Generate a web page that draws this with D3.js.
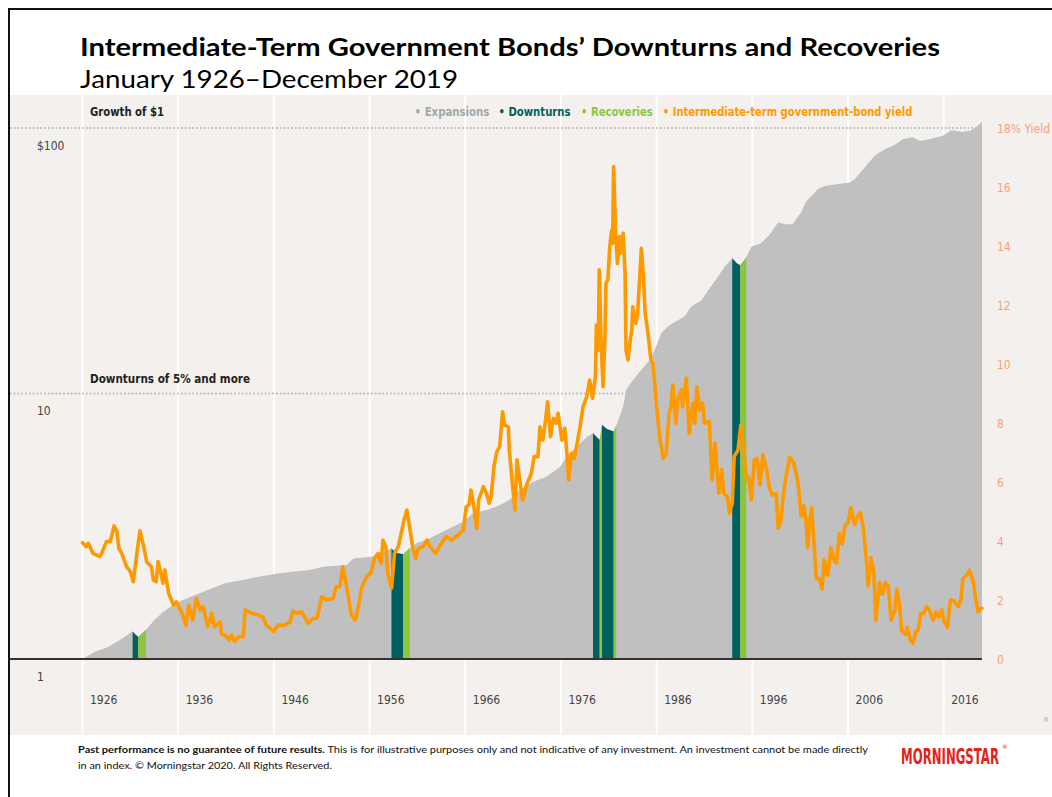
<!DOCTYPE html>
<html><head><meta charset="utf-8">
<script src="https://cdn.jsdelivr.net/npm/d3@7"></script>
<style>
html,body{margin:0;padding:0;background:#fff;}
svg{display:block;}
</style></head><body>
<svg id="chart" width="1052" height="797"></svg>
<script>
// ---------- DATA ----------
// Intermediate-term government bond yield (%), [year, yield]
const yieldSeries = [
[1926.0,3.94],[1926.4,3.81],[1926.6,3.92],[1927.1,3.58],[1927.8,3.47],[1928.0,3.58],[1928.5,3.98],[1928.9,3.98],
[1929.3,4.51],[1929.6,4.32],[1929.8,3.75],[1930.1,3.58],[1930.6,3.13],[1931.0,2.96],[1931.3,2.62],[1931.5,3.13],
[1932.0,4.35],[1932.4,3.81],[1932.7,3.30],[1933.2,3.13],[1933.4,2.68],[1933.7,2.62],[1933.9,3.30],[1934.2,2.90],
[1934.4,2.57],[1934.6,3.02],[1935.0,2.23],[1935.5,1.83],[1935.8,1.94],[1936.4,1.55],[1936.8,1.15],[1937.1,1.83],
[1937.5,1.32],[1937.9,2.06],[1938.3,1.66],[1938.6,1.77],[1939.1,1.09],[1939.5,1.55],[1939.8,1.09],[1940.4,1.26],
[1940.5,0.87],[1941.1,0.76],[1941.3,0.64],[1941.6,0.81],[1941.9,0.59],[1942.3,0.76],[1942.8,0.76],[1943.0,1.66],
[1943.7,1.55],[1944.4,1.49],[1944.9,1.41],[1945.2,1.15],[1946.0,0.93],[1946.4,1.15],[1947.1,1.15],[1947.7,1.26],
[1948.0,1.63],[1948.4,1.55],[1948.9,1.60],[1949.6,1.21],[1950.1,1.38],[1950.5,1.38],[1951.0,2.11],[1951.5,2.00],
[1952.2,2.06],[1952.5,2.45],[1952.9,2.45],[1953.2,3.13],[1953.6,2.45],[1954.1,1.49],[1954.5,1.32],[1954.8,1.72],
[1955.2,2.45],[1955.7,2.79],[1956.2,2.96],[1956.5,3.41],[1956.9,3.58],[1957.2,3.24],[1957.4,4.03],[1957.7,3.81],
[1957.9,2.90],[1958.3,2.40],[1958.6,3.58],[1959.0,3.81],[1959.3,4.26],[1959.6,4.71],[1959.9,5.05],[1960.2,4.43],
[1960.5,3.81],[1960.8,3.41],[1961.1,3.75],[1961.6,3.81],[1962.0,4.03],[1962.3,3.81],[1962.9,3.58],[1963.3,3.81],
[1964.0,4.15],[1964.6,4.03],[1965.2,4.20],[1965.8,4.37],[1966.1,5.16],[1966.4,5.22],[1966.6,5.73],[1966.9,5.16],
[1967.2,4.43],[1967.4,5.39],[1967.9,5.84],[1968.2,5.62],[1968.5,5.28],[1968.7,5.50],[1969.0,6.52],[1969.3,7.03],
[1969.6,7.20],[1969.9,8.38],[1970.1,7.93],[1970.5,7.87],[1970.6,7.08],[1970.9,6.01],[1971.2,5.05],[1971.4,6.75],
[1971.7,6.07],[1972.0,5.39],[1972.4,5.90],[1972.9,6.29],[1973.2,6.86],[1973.6,6.86],[1973.8,7.87],[1974.1,7.42],
[1974.4,8.10],[1974.6,8.72],[1974.9,7.54],[1975.2,8.16],[1975.5,7.99],[1975.7,8.33],[1976.1,7.42],[1976.4,7.82],
[1976.6,7.08],[1976.8,6.07],[1977.1,6.97],[1977.4,6.80],[1978.0,7.87],[1978.3,8.55],[1978.7,8.89],[1979.0,9.46],
[1979.3,8.84],[1979.6,9.57],[1979.7,11.32],[1979.9,10.47],[1980.0,13.19],[1980.2,10.70],[1980.4,9.23],[1980.6,10.93],
[1980.7,12.74],[1980.9,12.85],[1981.1,13.98],[1981.3,14.54],[1981.4,14.09],[1981.5,16.69],[1981.7,14.54],[1981.9,13.41],
[1982.1,14.32],[1982.2,13.75],[1982.5,14.43],[1982.7,13.07],[1982.8,10.47],[1983.0,10.14],[1983.2,10.70],[1983.4,11.15],
[1983.5,11.94],[1983.8,11.38],[1984.0,11.66],[1984.2,12.74],[1984.4,13.92],[1984.6,13.07],[1984.8,11.72],[1985.1,11.04],
[1985.4,10.14],[1985.6,10.02],[1985.8,9.35],[1986.0,8.55],[1986.3,7.54],[1986.7,6.80],[1987.0,6.97],[1987.3,8.33],
[1987.5,8.55],[1987.7,9.29],[1988.0,7.99],[1988.2,8.78],[1988.6,9.12],[1988.7,8.55],[1989.1,9.52],[1989.4,7.65],
[1989.8,8.67],[1990.0,7.99],[1990.2,9.23],[1990.5,8.44],[1990.8,8.67],[1991.0,7.99],[1991.5,8.05],[1991.8,6.07],
[1992.1,7.31],[1992.5,5.62],[1992.8,6.41],[1993.0,5.62],[1993.4,5.50],[1993.6,4.94],[1993.9,5.28],[1994.1,6.86],
[1994.5,7.08],[1994.8,7.93],[1995.1,7.08],[1995.4,6.07],[1995.6,6.18],[1995.9,5.39],[1996.2,6.75],[1996.5,6.80],
[1996.8,5.90],[1997.1,6.92],[1997.5,6.41],[1997.8,5.78],[1998.1,5.55],[1998.5,5.60],[1998.7,4.43],[1999.0,4.72],
[1999.2,5.43],[1999.5,6.14],[1999.9,6.84],[2000.3,6.66],[2000.6,6.25],[2000.8,5.90],[2001.1,4.84],[2001.4,5.19],
[2001.6,4.72],[2001.8,3.78],[2002.0,4.72],[2002.2,5.13],[2002.4,4.13],[2002.7,2.72],[2003.0,2.72],[2003.3,2.37],
[2003.5,3.37],[2003.9,2.84],[2004.2,3.78],[2004.6,3.31],[2004.8,3.25],[2005.1,4.25],[2005.4,3.90],[2005.7,4.55],
[2006.0,4.60],[2006.3,5.13],[2006.7,4.55],[2007.0,4.84],[2007.3,4.96],[2007.6,4.43],[2007.9,3.43],[2008.1,2.48],
[2008.4,3.43],[2008.7,2.95],[2008.9,1.31],[2009.3,2.60],[2009.6,2.19],[2009.9,2.60],[2010.2,2.48],[2010.5,1.31],
[2010.9,1.66],[2011.1,2.37],[2011.4,1.78],[2011.6,0.95],[2012.0,0.83],[2012.2,1.07],[2012.5,0.66],[2012.8,0.54],
[2013.1,0.95],[2013.3,0.95],[2013.6,1.54],[2013.9,1.54],[2014.2,1.78],[2014.5,1.66],[2014.9,1.31],[2015.2,1.60],
[2015.5,1.42],[2015.8,1.66],[2016.0,1.31],[2016.4,1.07],[2016.7,2.01],[2017.1,1.95],[2017.5,1.78],[2017.8,2.01],
[2018.0,2.72],[2018.4,2.84],[2018.7,3.01],[2019.1,2.60],[2019.3,2.13],[2019.6,1.60],[2019.9,1.72],[2020.0,1.72]
];

// Growth of $1 (log scale), [year, value]
const growthSeries = [
[1926.0,1.00],[1927.3,1.065],[1928.7,1.11],[1929.9,1.18],[1931.24,1.27],[1931.5,1.24],[1931.83,1.21],[1932.63,1.29],
[1933.5,1.40],[1934.3,1.49],[1935.7,1.62],[1937.4,1.72],[1939.1,1.82],[1940.9,1.93],[1942.6,1.98],[1944.4,2.04],
[1946.1,2.09],[1947.8,2.13],[1949.6,2.16],[1951.3,2.23],[1953.6,2.26],[1954.3,2.39],[1956.4,2.43],[1958.29,2.61],
[1958.7,2.52],[1959.5,2.48],[1960.2,2.62],[1960.9,2.73],[1962.3,2.85],[1964.0,3.06],[1965.8,3.29],[1966.8,3.54],
[1968.2,3.64],[1969.3,3.75],[1970.6,3.97],[1971.7,4.33],[1973.1,4.65],[1974.5,4.86],[1975.9,5.30],[1976.9,5.96],
[1978.0,6.49],[1978.8,6.90],[1979.35,7.08],[1980.05,6.68],[1980.29,7.62],[1980.8,7.35],[1981.51,7.20],[1981.77,7.55],
[1982.5,8.92],[1982.8,10.3],[1983.5,11.2],[1984.4,12.3],[1985.3,13.4],[1985.8,14.6],[1986.5,16.9],[1987.2,17.9],
[1987.9,18.6],[1988.9,19.5],[1989.6,21.2],[1990.7,22.5],[1991.4,24.5],[1992.4,27.5],[1993.1,30.0],[1993.9,32.3],
[1994.4,30.9],[1994.74,30.4],[1995.37,32.6],[1995.9,35.7],[1996.9,36.8],[1997.8,39.6],[1998.7,44.1],[1999.4,43.4],
[2000.2,43.4],[2001.1,48.2],[2001.6,52.7],[2002.5,56.9],[2002.8,58.6],[2003.5,60.5],[2004.8,61.4],[2006.2,62.3],
[2006.7,64.2],[2007.5,69.2],[2008.1,73.6],[2008.9,79.3],[2009.8,83.0],[2011.0,86.8],[2011.7,90.8],[2012.8,92.2],
[2013.5,89.4],[2014.5,90.8],[2015.9,93.6],[2016.8,98.0],[2018.0,96.5],[2018.9,98.0],[2019.4,100.9],[2020.0,105.6]
];

// Downturns of 5% and more: [start, trough (end of downturn), end of recovery]
const downturnPeriods = [
[1931.24,1931.83,1932.63],
[1958.29,1959.50,1960.20],
[1979.35,1980.05,1980.29],
[1980.29,1981.51,1981.77],
[1993.90,1994.74,1995.37]
];

const yearTicks = [1926,1936,1946,1956,1966,1976,1986,1996,2006,2016];
const growthTicks = [1,10,100];
const growthTickLabels = ["1","10","$100"];
const yieldTicks = [0,2,4,6,8,10,12,14,16,18];
const yieldTickLabels = ["0","2","4","6","8","10","12","14","16","18% Yield"];
const legendLabels = ["Expansions","Downturns","Recoveries","Intermediate-term government-bond yield"];

// ---------- STYLE ----------
const C = {
  bg:"#f3f0ed", gray:"#c0c0c0", teal:"#00605f", green:"#8cc63f", orange:"#ff9900",
  legendGray:"#9eaaae", salmon:"#f5a27c", dot:"#9fb0b4"
};
const NARROW = "'Liberation Sans Narrow','Arial Narrow','DejaVu Sans Condensed','Roboto Condensed',sans-serif";

const svg = d3.select("#chart");
const W = 1052, H = 797;

const x = d3.scaleLinear().domain([1926,2020]).range([82.5,982]);
const yG = d3.scaleLog().domain([1,100]).range([659,128]);
const yY = d3.scaleLinear().domain([0,18]).range([659,128]);

function fit(sel, w){ sel.attr("textLength", w).attr("lengthAdjust","spacingAndGlyphs"); return sel; }

svg.append("rect").attr("width",W).attr("height",H).attr("fill","#fff");
// panel
svg.append("rect").attr("x",10).attr("y",95).attr("width",W-10).attr("height",640).attr("fill",C.bg);
// frame
svg.append("path").attr("d","M9,797 V9 H1052").attr("fill","none").attr("stroke","#111").attr("stroke-width",2);

// vertical white grid
svg.append("g").selectAll("line").data(yearTicks).join("line")
  .attr("x1",d=>x(d)).attr("x2",d=>x(d)).attr("y1",95).attr("y2",735)
  .attr("stroke","#fff").attr("stroke-width",2);

// dotted reference lines
svg.append("g").selectAll("line").data(growthTicks.filter(d=>d>1)).join("line")
  .attr("x1",10).attr("x2",x(2020)).attr("y1",d=>yG(d)).attr("y2",d=>yG(d))
  .attr("stroke",C.dot).attr("stroke-width",1.6).attr("stroke-dasharray","1.6,2.2");

// growth area
const area = d3.area().x(d=>x(d[0])).y0(yG(1)).y1(d=>yG(d[1]));
svg.append("path").datum(growthSeries).attr("d",area).attr("fill",C.gray);

// downturn & recovery bands
const defs = svg.append("defs");
downturnPeriods.forEach((p,i)=>{
  defs.append("clipPath").attr("id","dn"+i).append("rect")
    .attr("x",x(p[0])).attr("width",x(p[1])-x(p[0])).attr("y",0).attr("height",H);
  defs.append("clipPath").attr("id","rc"+i).append("rect")
    .attr("x",x(p[1])).attr("width",x(p[2])-x(p[1])).attr("y",0).attr("height",H);
  svg.append("path").datum(growthSeries).attr("d",area).attr("fill",C.teal).attr("clip-path",`url(#dn${i})`);
  svg.append("path").datum(growthSeries).attr("d",area).attr("fill",C.green).attr("clip-path",`url(#rc${i})`);
});

// baseline
svg.append("line").attr("x1",10).attr("x2",x(2020)).attr("y1",yG(1)).attr("y2",yG(1))
  .attr("stroke","#333").attr("stroke-width",2);

// yield line
const line = d3.line().x(d=>x(d[0])).y(d=>yY(d[1]));
svg.append("path").datum(yieldSeries).attr("d",line).attr("fill","none")
  .attr("stroke",C.orange).attr("stroke-width",3.6).attr("stroke-linejoin","round").attr("stroke-linecap","round");

// bottom axis
const gx = svg.append("g").attr("transform","translate(0,700)")
  .call(d3.axisBottom(x).tickValues(yearTicks).tickFormat(d3.format("d")).tickSize(0).tickPadding(0));
gx.select(".domain").remove();
gx.selectAll("text").attr("y",0).attr("dy","0.35em").attr("dx",7).attr("text-anchor","start")
  .attr("font-family",NARROW).attr("font-size",12).attr("fill","#444");

// left axis (log)
const gl = svg.append("g").attr("transform","translate(37,0)")
  .call(d3.axisRight(yG).tickValues(growthTicks).tickFormat((d,i)=>growthTickLabels[i]).tickSize(0).tickPadding(0));
gl.select(".domain").remove();
gl.selectAll("text").attr("x",0).attr("y",17).attr("dy","0.35em").attr("text-anchor","start")
  .attr("font-family",NARROW).attr("font-size",12).attr("fill","#444");

// right axis (yield)
const gr = svg.append("g").attr("transform","translate(997,0)")
  .call(d3.axisRight(yY).tickValues(yieldTicks).tickFormat((d,i)=>yieldTickLabels[i]).tickSize(0).tickPadding(0));
gr.select(".domain").remove();
gr.selectAll("text").attr("x",0).attr("dy","0.35em").attr("text-anchor","start")
  .attr("font-family",NARROW).attr("font-size",12).attr("fill",C.salmon);

// labels in plot
fit(svg.append("text").attr("x",90).attr("y",116).text("Growth of $1")
  .attr("font-family",NARROW).attr("font-weight","bold").attr("font-size",12.5).attr("fill","#222"), 74);
fit(svg.append("text").attr("x",90).attr("y",383).text("Downturns of 5% and more")
  .attr("font-family",NARROW).attr("font-weight","bold").attr("font-size",12.5).attr("fill","#222"), 160);

// legend
const legColors = [C.legendGray, C.teal, C.green, C.orange];
const legX = [414.6, 498.5, 581, 662.8];
const legW = [74.8, 72, 71.8, 249.5];
legendLabels.forEach((l,i)=>{
  fit(svg.append("text").attr("x",legX[i]).attr("y",116).text("\u2022 " + l)
    .attr("font-family",NARROW).attr("font-weight","bold").attr("font-size",12.5).attr("fill",legColors[i]), legW[i]);
});

// title
fit(svg.append("text").attr("x",80).attr("y",56).text("Intermediate-Term Government Bonds\u2019 Downturns and Recoveries")
  .attr("font-family","Lato,'Open Sans',sans-serif").attr("font-weight","bold").attr("font-size",25).attr("fill","#000"), 860);
fit(svg.append("text").attr("x",80).attr("y",88).text("January 1926\u2013December 2019")
  .attr("font-family","Lato,'Open Sans',sans-serif").attr("font-size",25).attr("fill","#000"), 378);

// footer
const f1 = svg.append("text").attr("x",78).attr("y",753).attr("font-family","Lato,'Open Sans',sans-serif")
  .attr("font-size",9.2).attr("fill","#111");
f1.append("tspan").attr("font-weight","bold").text("Past performance is no guarantee of future results.");
f1.append("tspan").text(" This is for illustrative purposes only and not indicative of any investment. An investment cannot be made directly");
fit(f1, 790);
fit(svg.append("text").attr("x",78).attr("y",769).attr("font-family","Lato,'Open Sans',sans-serif")
  .attr("font-size",9.2).attr("fill","#111").text("in an index. \u00A9 Morningstar 2020. All Rights Reserved."), 254);

// logo (horizontally compressed to the condensed wordmark width)
const logo = svg.append("text").attr("x",0).attr("y",0).text("MORNINGSTAR")
  .attr("font-family",NARROW).attr("font-weight","bold").attr("font-size",22).attr("fill","#e2231a");
const logoLen = logo.node().getComputedTextLength();
logo.attr("transform",`translate(901,764) scale(${98/logoLen},1)`);
svg.append("text").attr("x",1002).attr("y",749).text("\u00AE").attr("font-family",NARROW)
  .attr("font-size",6).attr("fill","#e2231a");

// cut-off source mark
svg.append("text").attr("x",1044).attr("y",722).text("R").attr("font-family",NARROW)
  .attr("font-size",7).attr("fill","#aaa");
</script>
</body></html>
